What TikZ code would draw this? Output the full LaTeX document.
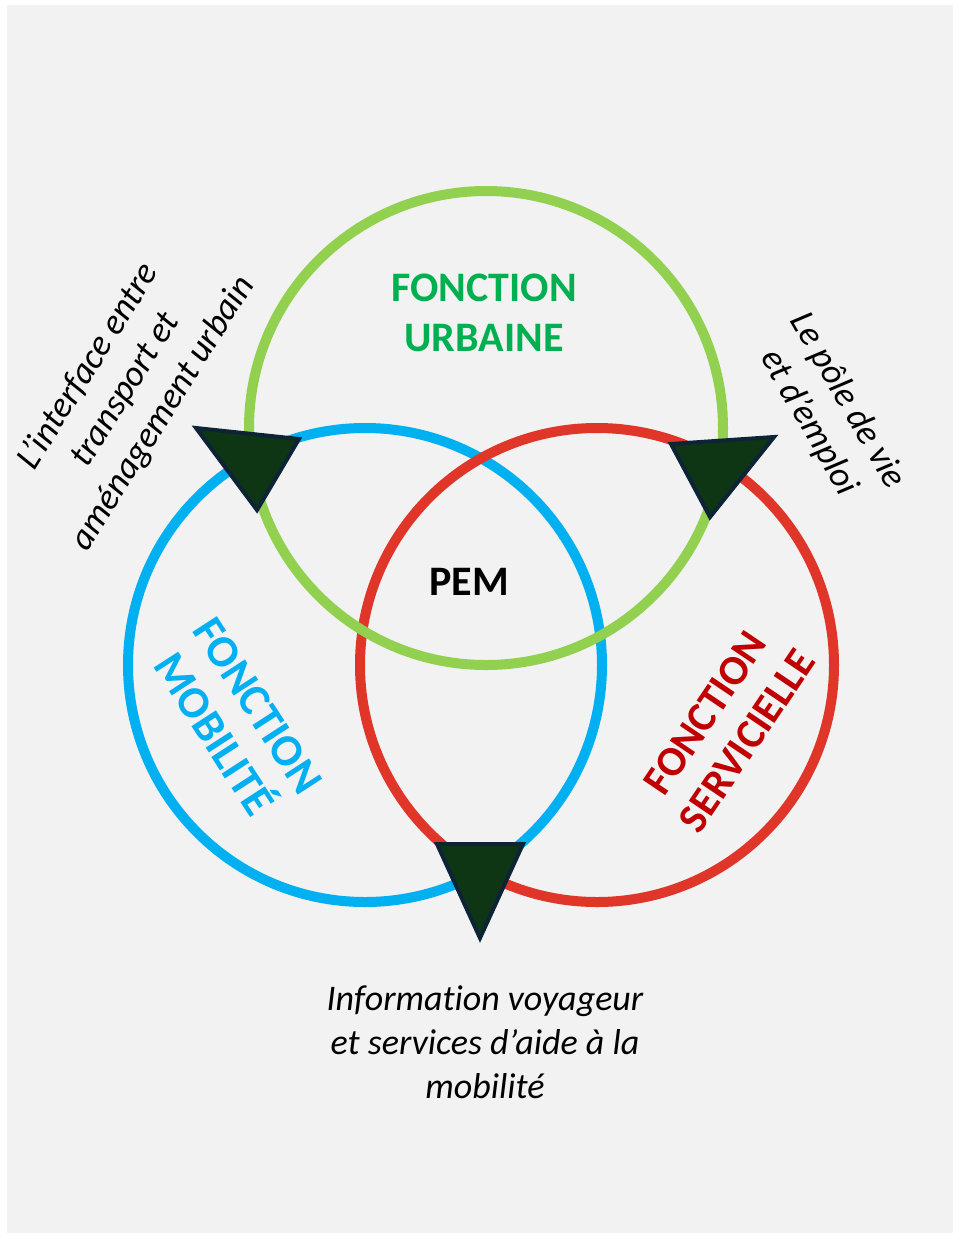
\documentclass[tikz,border=0pt]{standalone}
\usepackage{fontspec}
\setmainfont{Carlito}[Ligatures=NoCommon]
\usepackage{tikz}
\usepackage{xcolor}
\definecolor{paper}{HTML}{F2F2F2}
\definecolor{urbgreen}{HTML}{92D050}
\definecolor{urbtext}{HTML}{00B050}
\definecolor{mobblue}{HTML}{00B0F0}
\definecolor{serred}{HTML}{E0362A}
\definecolor{sertext}{HTML}{C00000}
\definecolor{trifill}{HTML}{0E3614}
\definecolor{triedge}{HTML}{0C2436}
\tikzset{ring/.style={line width=10pt},
 marker/.style={draw=triedge, fill=trifill, line width=4pt, line join=miter},
 title/.style={font=\bfseries\fontsize{42}{50}\selectfont, align=center, inner sep=0pt},
 remark/.style={font=\itshape\fontsize{36}{44}\selectfont, align=center, inner sep=0pt},
 }

\begin{document}
\begin{tikzpicture}[x=1pt, y=-1pt]
        \useasboundingbox (0, 0) rectangle (953, 1235);
        \fill[white] (0, 0) rectangle (953, 1235);
        \fill[paper] (7, 5) rectangle (953, 1233);

        % the three functions
        \draw[ring, mobblue] (365, 665) circle (237);
        \draw[ring, serred] (597, 665) circle (237);
        \draw[ring, urbgreen] (486, 428) circle (237);

        \node[title, text=urbtext] (urbaine) at (484, 313) {FONCTION\\URBAINE};
        \node[title, text=mobblue, rotate=-57, font=\bfseries\fontsize{45}{52}\selectfont] (mobilite) at (236, 720) {FONCTION\\MOBILITÉ};
        \node[title, text=sertext, rotate=56] (servicielle) at (726, 727) {FONCTION\\SERVICIELLE};
        \node[title] (pem) at (469, 582) {PEM};

        % markers
        \draw[marker] (196, 428) -- (299, 439) -- (257, 510) -- cycle;
        \draw[marker] (671, 444) -- (774, 437) -- (710, 517) -- cycle;
        \draw[marker] (437, 844) -- (523, 844) -- (480, 938) -- cycle;

        \node[remark, rotate=58] (interface) at (126, 390) {L’interface entre\\transport et\\aménagement urbain};
        \node[remark, rotate=-60] (pole) at (828, 412) {Le pôle de vie\\et d’emploi};
        \node[remark] (information) at (485, 1042) {Information voyageur\\et services d’aide à la\\mobilité};
    \end{tikzpicture}
\end{document}
